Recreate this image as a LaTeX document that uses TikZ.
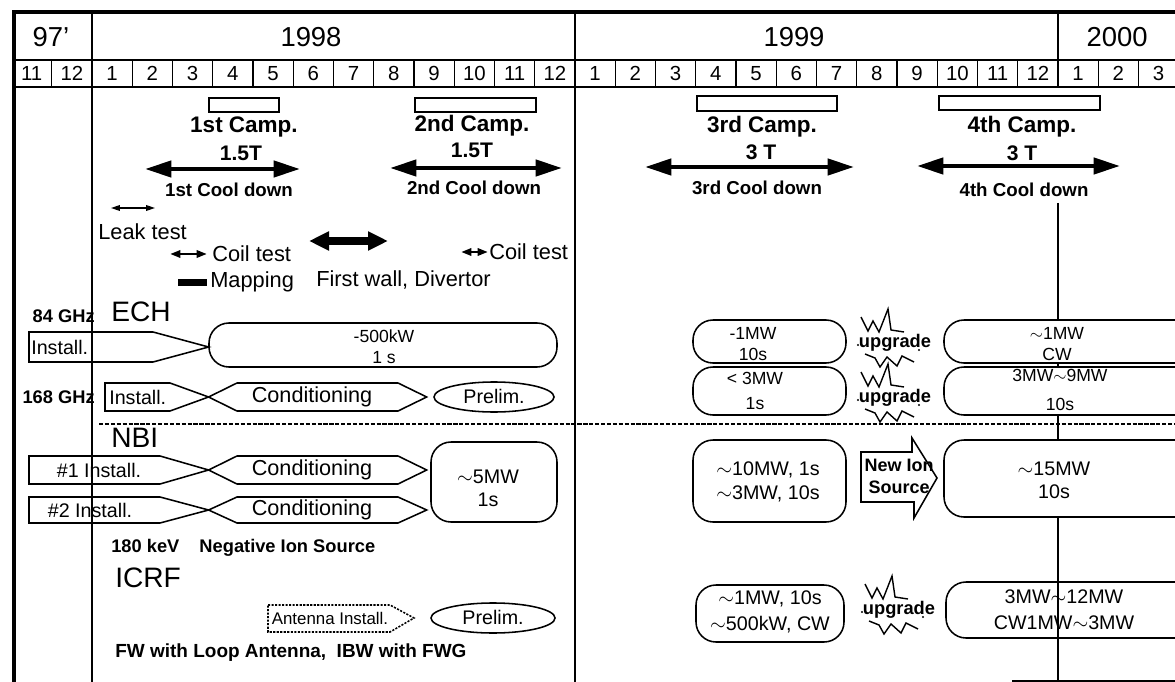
\documentclass[tikz,border=0pt]{standalone}
\usepackage{fontspec}
\setmainfont{Liberation Sans}
\usetikzlibrary{arrows.meta}

\newcommand{\tld}{\ensuremath{\sim}}

\tikzset{
  % texts
  yearlbl/.style={font=\fontsize{19.5}{21}\selectfont},
  monthlbl/.style={font=\fontsize{14.5}{16}\selectfont, anchor=base},
  camplbl/.style={font=\bfseries\fontsize{16}{18}\selectfont},
  fieldlbl/.style={font=\bfseries\fontsize{15}{17}\selectfont},
  coollbl/.style={font=\bfseries\fontsize{13.3}{15}\selectfont},
  testlbl/.style={font=\fontsize{15.5}{17}\selectfont, anchor=west, inner sep=0pt},
  syslbl/.style={font=\fontsize{20}{22}\selectfont, anchor=west, inner sep=0pt},
  freqlbl/.style={font=\bfseries\fontsize{13}{15}\selectfont, anchor=east, inner sep=0pt},
  notelbl/.style={font=\bfseries\fontsize{13}{15}\selectfont, anchor=west, inner sep=0pt},
  stagelbl/.style={font=\fontsize{14}{16}\selectfont, inner sep=0pt},
  condlbl/.style={font=\fontsize{15.4}{17}\selectfont},
  uplbl/.style={font=\bfseries\fontsize{13}{15.5}\selectfont, align=center, inner sep=0pt},
  % lines
  gridline/.style={line width=1pt},
  shapeline/.style={line width=1.1pt},
  campbar/.style={line width=1.2pt},
  pwrbox/.style={line width=1.1pt, rounded corners=0.5cm},
  zigline/.style={line width=1pt},
  camparrow/.style={{Triangle[length=0.66cm,width=0.4cm]}-{Triangle[length=0.66cm,width=0.4cm]}, line width=3.2pt},
  leakarrow/.style={{Triangle[length=0.22cm,width=0.14cm]}-{Triangle[length=0.22cm,width=0.14cm]}, line width=1pt},
  coilarrow/.style={{Triangle[length=0.26cm,width=0.18cm]}-{Triangle[length=0.26cm,width=0.18cm]}, line width=1.8pt},
  wallarrow/.style={{Triangle[length=0.5cm,width=0.45cm]}-{Triangle[length=0.5cm,width=0.45cm]}, line width=5pt}
}

\begin{document}
\begin{tikzpicture}[x=0.025cm, y=-0.025cm]
\useasboundingbox (0,0) rectangle (1175,682);
\clip (0,0) rectangle (1175,682);

% calendar frame
\draw[line width=3pt] (14,690) -- (14,12) -- (1180,12);
\draw[gridline] (14,60) -- (1180,60) (14,87) -- (1180,87);
\draw[gridline] (92,12) -- (92,690) (575,12) -- (575,690);
\draw[gridline] (1058,12) -- (1058,87) (1058,203) -- (1058,690);
\draw[gridline] (1012,681) -- (1180,681);
\foreach \m in {-1,1,2,3,4,5,6,7,8,9,10,11,13,14,15,16,17,18,19,20,21,22,23,25,26}
  \draw[gridline] ({92+40.25*\m},60) -- ({92+40.25*\m},87);

\node[yearlbl] (y97) at (51,37) {97'};
\node[yearlbl] (y98) at (311,37) {1998};
\node[yearlbl] (y99) at (794,37) {1999};
\node[yearlbl] (y00) at (1117,37) {2000};

\node[monthlbl] (m97-11) at ({92-40.25*1.5},81) {11};
\node[monthlbl] (m97-12) at ({92-40.25*0.5},81) {12};
\foreach \i in {1,...,12} {
  \node[monthlbl] (m98-\i) at ({92+40.25*(\i-0.5)},81) {\i};
  \node[monthlbl] (m99-\i) at ({575+40.25*(\i-0.5)},81) {\i};
}
\foreach \i in {1,2,3}
  \node[monthlbl] (m00-\i) at ({1058+40.25*(\i-0.5)},81) {\i};

% campaigns
\draw[campbar] (209,98) rectangle (279,112);
\node[camplbl] (camp1) at (244,127) {1st Camp.};
\node[fieldlbl] (field1) at (241,153) {1.5T};
\coordinate (cool1a) at (145,169); \coordinate (cool1b) at (300,169);
\draw[camparrow] (cool1a) -- (cool1b);
\node[coollbl] (cool1) at (229,190) {1st Cool down};

\draw[campbar] (415,98) rectangle (536,112);
\node[camplbl] (camp2) at (472,126) {2nd Camp.};
\node[fieldlbl] (field2) at (472,150) {1.5T};
\coordinate (cool2a) at (390,168); \coordinate (cool2b) at (562,168);
\draw[camparrow] (cool2a) -- (cool2b);
\node[coollbl] (cool2) at (474,188) {2nd Cool down};

\draw[campbar] (697,96) rectangle (837,111);
\node[camplbl] (camp3) at (762,127) {3rd Camp.};
\node[fieldlbl] (field3) at (761,152) {3 T};
\coordinate (cool3a) at (645,167); \coordinate (cool3b) at (854,167);
\draw[camparrow] (cool3a) -- (cool3b);
\node[coollbl] (cool3) at (757,188) {3rd Cool down};

\draw[campbar] (939,96) rectangle (1100,110);
\node[camplbl] (camp4) at (1022,127) {4th Camp.};
\node[fieldlbl] (field4) at (1022,153) {3 T};
\coordinate (cool4a) at (917,166); \coordinate (cool4b) at (1120,166);
\draw[camparrow] (cool4a) -- (cool4b);
\node[coollbl] (cool4) at (1024,190) {4th Cool down};

% tests
\coordinate (leaka) at (111,208); \coordinate (leakb) at (155,208);
\draw[leakarrow] (leaka) -- (leakb);
\node[testlbl] (leak) at (98,232) {Leak test};
\coordinate (coil1a) at (170,254); \coordinate (coil1b) at (207,254);
\draw[coilarrow] (coil1a) -- (coil1b);
\node[testlbl] (coil1) at (212,254) {Coil test};
\coordinate (walla) at (309,241); \coordinate (wallb) at (388,241);
\draw[wallarrow] (walla) -- (wallb);
\node[testlbl] (wall) at (316,280) {First wall, Divertor};
\coordinate (coil2a) at (461,252); \coordinate (coil2b) at (488,252);
\draw[coilarrow] (coil2a) -- (coil2b);
\node[testlbl] (coil2) at (489,252) {Coil test};
\fill (178,279) rectangle (207,286);
\node[testlbl] (mapping) at (210,282) {Mapping};

% ECH
\node[freqlbl] (f84) at (95,316) {84 GHz};
\node[syslbl] (ech) at (111,312) {ECH};
\draw[shapeline] (29,332) -- (153,332) -- (208.6,347) -- (153,362) -- (29,362) -- cycle;
\node[stagelbl, anchor=west] (ins84) at (31,347) {Install.};
\draw[pwrbox] (209,323) rectangle (557,367);
\node[font=\fontsize{12.5}{15}\selectfont, align=center] (p84) at (384,347) {-500kW\\1 s};

\node[freqlbl] (f168) at (95,397) {168 GHz};
\draw[shapeline] (105,383) -- (170,383) -- (208.6,397) -- (170,411) -- (105,411) -- cycle;
\node[stagelbl, anchor=west] (ins168) at (109,397) {Install.};
\draw[shapeline] (494,397) ellipse [x radius=1.5cm, y radius=0.375cm];
\node[stagelbl] (pre168) at (494,396) {Prelim.};

% NBI
\draw[gridline, dash pattern=on 3pt off 1.2pt] (99,424) -- (1180,424);
\node[syslbl] (nbi) at (111,438) {NBI};
\draw[shapeline] (29,456) -- (160,456) -- (208.6,470) -- (160,484) -- (29,484) -- cycle;
\node[stagelbl] (insnb1) at (99,470) {\#1 Install.};
\draw[shapeline] (29,497) -- (160,497) -- (208.6,510) -- (160,523) -- (29,523) -- cycle;
\node[stagelbl] (insnb2) at (90,510) {\#2 Install.};
\foreach \cy/\h/\nm in {397/14/cond168, 470/14/condnb1, 510/13/condnb2} {
  \draw[shapeline] (208.6,\cy) -- (237,\cy-\h) -- (398,\cy-\h) -- (426.7,\cy) -- (398,\cy+\h) -- (237,\cy+\h) -- cycle;
  \node[condlbl] (\nm) at (312,\cy) {Conditioning};
}
\draw[pwrbox] (431,442) rectangle (557,522);
\node[font=\fontsize{14}{16.5}\selectfont, align=center] (pnb) at (488,488) {\tld5MW\\1s};
\node[notelbl] (nis) at (111,548) {180 keV\hspace{1.1em}Negative Ion Source};

% ICRF
\node[syslbl] (icrf) at (115,578) {ICRF};
\draw[shapeline, dash pattern=on 1.5pt off 1pt] (268,605) -- (390,605) -- (414,618) -- (390,632) -- (268,632) -- cycle;
\node[font=\fontsize{12}{14}\selectfont] (antins) at (330,618) {Antenna Install.};
\draw[shapeline] (493,618) ellipse [x radius=1.55cm, y radius=0.375cm];
\node[stagelbl] (preicrf) at (493,617) {Prelim.};
\node[font=\bfseries\fontsize{13.5}{15}\selectfont, anchor=west, inner sep=0pt] (fwnote) at (115,653) {FW with Loop Antenna,\ \ IBW with FWG};

% 1999 levels
\draw[pwrbox] (693,320) rectangle (846,363);
\node[font=\fontsize{12.5}{15}\selectfont, align=center] (ech99a) at (753,344) {-1MW\\10s};
\draw[pwrbox] (693,367) rectangle (846,415);
\node[font=\fontsize{12.5}{18}\selectfont, align=center] (ech99b) at (755,391) {< 3MW\\1s};
\draw[pwrbox] (693,440) rectangle (846,522);
\node[font=\fontsize{14}{17}\selectfont, align=center] (nbi99) at (768,482) {\tld10MW, 1s\\\tld3MW, 10s};
\draw[pwrbox] (696,585) rectangle (844,642);
\node[font=\fontsize{14}{18}\selectfont, align=center] (icrf99) at (770,612) {\tld1MW, 10s\\\tld500kW, CW};

% upgrades
\foreach \ux/\uy/\nm in {895/343/up1, 895/398/up2, 899/610/up3} {
  \node[uplbl] (\nm) at (\ux,\uy) {upgrade};
  \draw[zigline, shift={(\ux,\uy)}] (-34,-26) -- (-27,-12) -- (-22,-22) -- (-16,-11) -- (-7,-34) -- (-4,-13) -- (9,-11);
  \draw[zigline, shift={(\ux,\uy)}] (-30,11) -- (-20,15) -- (-15,24) -- (-8,14) -- (2,23) -- (7,13) -- (19,19);
  \fill[shift={(\ux,\uy)}] (-37,2) circle (0.8pt) (24,7) circle (0.8pt);
}
\draw[shapeline] (861,452) -- (912,452) -- (912,438) -- (937,478) -- (914,518) -- (914,502) -- (861,502) -- cycle;
\node[uplbl, font=\bfseries\fontsize{12.8}{15.6}\selectfont] (newion) at (899,476) {New Ion\\Source};

% 2000 levels
\draw[pwrbox, fill=white] (944,320) rectangle (1230,363);
\node[font=\fontsize{12.5}{15}\selectfont, align=center] (ech00a) at (1057,344) {\tld1MW\\CW};
\draw[pwrbox, fill=white] (944,367) rectangle (1230,415);
\node[font=\fontsize{12.5}{20}\selectfont, align=center] (ech00b) at (1060,390) {3MW\tld9MW\\10s};
\draw[pwrbox, fill=white] (944,440) rectangle (1230,517);
\node[font=\fontsize{14}{16.5}\selectfont, align=center] (nbi00) at (1054,480) {\tld15MW\\10s};
\draw[pwrbox] (946,582) rectangle (1230,638);
\node[font=\fontsize{14}{18.5}\selectfont, align=center] (icrf00) at (1064,610) {3MW\tld12MW\\CW1MW\tld3MW};
\end{tikzpicture}
\end{document}
